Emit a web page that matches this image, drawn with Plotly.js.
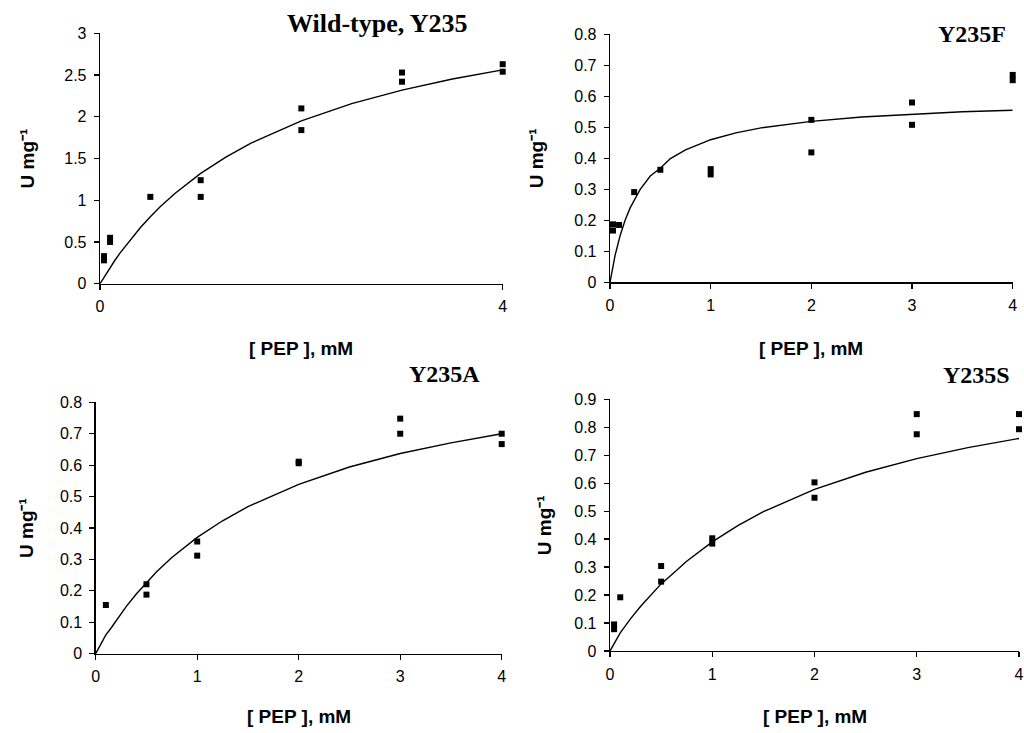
<!DOCTYPE html>
<html>
<head>
<meta charset="utf-8">
<script src="https://cdn.plot.ly/plotly-3.0.1.min.js"></script>
<style>
  html, body { margin: 0; padding: 0; background: #ffffff; }
  #chart { width: 1024px; height: 733px; }
</style>
</head>
<body>
<div id="chart"></div>
<script>
// Panel names
const panelTitles = ['Wild-type, Y235', 'Y235F', 'Y235A', 'Y235S'];

// Measured activities (U mg-1) against [PEP] (mM), duplicate determinations
const wtPepX = [0.04, 0.04, 0.1, 0.1, 0.5, 1, 1, 2, 2, 3, 3, 4, 4];
const wtRate = [0.33, 0.28, 0.55, 0.50, 1.04, 1.24, 1.04, 2.10, 1.84, 2.53, 2.42, 2.63, 2.54];

const fPepX = [0.03, 0.03, 0.09, 0.24, 0.5, 1, 1, 2, 2, 3, 3, 4, 4];
const fRate = [0.187, 0.167, 0.185, 0.291, 0.363, 0.365, 0.348, 0.524, 0.419, 0.580, 0.508, 0.669, 0.652];

const aPepX = [0.1, 0.5, 0.5, 1, 1, 2, 2, 3, 3, 4, 4];
const aRate = [0.155, 0.221, 0.188, 0.357, 0.312, 0.611, 0.606, 0.748, 0.700, 0.700, 0.667];

const sPepX = [0.04, 0.04, 0.1, 0.5, 0.5, 1, 1, 2, 2, 3, 3, 4, 4];
const sRate = [0.095, 0.078, 0.192, 0.304, 0.248, 0.403, 0.384, 0.603, 0.548, 0.847, 0.775, 0.847, 0.793];

// Fitted saturation curves
const fitX  = [0, 0.05, 0.1, 0.15, 0.2, 0.3, 0.4, 0.5, 0.6, 0.75, 1, 1.25, 1.5, 2, 2.5, 3, 3.5, 4];
const wtFit = [0, 0.10, 0.194, 0.284, 0.369, 0.527, 0.671, 0.803, 0.924, 1.087, 1.321, 1.517, 1.684, 1.951, 2.157, 2.320, 2.453, 2.562];
const fFit  = [0, 0.086, 0.150, 0.200, 0.240, 0.300, 0.343, 0.368, 0.399, 0.427, 0.460, 0.482, 0.498, 0.519, 0.533, 0.542, 0.550, 0.555];
const aFit  = [0, 0.030, 0.060, 0.081, 0.105, 0.150, 0.190, 0.227, 0.261, 0.306, 0.370, 0.423, 0.468, 0.539, 0.594, 0.637, 0.671, 0.700];
const sFit  = [0, 0.035, 0.065, 0.090, 0.115, 0.160, 0.200, 0.240, 0.272, 0.321, 0.390, 0.448, 0.498, 0.578, 0.639, 0.688, 0.727, 0.760];

// Axis ranges and tick spacing per panel
const yMax = [3, 0.8, 0.8, 0.9];
const yStep = [0.5, 0.1, 0.1, 0.1];
const wtXTicks = [0, 4];

const xTitle = '[ PEP ], mM';
const yTitle = 'U mg\u207B\u00B9';

const W = 1024, H = 733;
// plot boxes in pixels: [left, right, bottom, top]
const boxes = [
  [100, 502.7, 283.7, 33.3],
  [610, 1012.7, 282.3, 34.3],
  [95.7, 501.7, 653.7, 402.3],
  [610, 1019, 651, 399.3]
];
// axis title centres in pixels: [x-title x, x-title y, y-title x]
const titlePos = [
  [301.4, 348, 27],
  [811.4, 348, 536],
  [298.7, 716, 26],
  [814.5, 716, 544]
];

const series = [
  [wtPepX, wtRate, wtFit],
  [fPepX, fRate, fFit],
  [aPepX, aRate, aFit],
  [sPepX, sRate, sFit]
];

const traces = [];
const layout = {
  width: W, height: H,
  margin: {l: 0, r: 0, t: 0, b: 0},
  paper_bgcolor: '#ffffff',
  plot_bgcolor: '#ffffff',
  showlegend: false,
  annotations: []
};

const tickFont = {family: 'Liberation Sans, Arial, sans-serif', size: 16, color: '#000000'};
const axTitleFont = {family: 'Liberation Sans, Arial, sans-serif', size: 19, color: '#000000', weight: 'bold'};

series.forEach(function (s, i) {
  const n = i === 0 ? '' : String(i + 1);
  const xa = 'x' + n, ya = 'y' + n;
  traces.push({
    x: fitX, y: s[2], xaxis: xa, yaxis: ya,
    type: 'scatter', mode: 'lines',
    line: {color: '#000000', width: 1.4},
    cliponaxis: false, hoverinfo: 'skip'
  });
  traces.push({
    x: s[0], y: s[1], xaxis: xa, yaxis: ya,
    type: 'scatter', mode: 'markers',
    marker: {symbol: 'square', size: 6, color: '#000000'},
    cliponaxis: false
  });
  const b = boxes[i];
  const common = {
    showline: true, linecolor: '#000000', linewidth: 1.3,
    ticks: 'outside', ticklen: 5, tickwidth: 1.3, tickcolor: '#000000',
    showgrid: false, zeroline: false, tickfont: tickFont,
    fixedrange: true
  };
  layout['xaxis' + n] = Object.assign({}, common, {
    domain: [b[0] / W, b[1] / W],
    anchor: ya,
    range: [0, 4],
    tickmode: i === 0 ? 'array' : 'linear',
    tickvals: i === 0 ? wtXTicks : undefined,
    tick0: 0, dtick: 1,
    ticklabelstandoff: 3
  });
  layout['yaxis' + n] = Object.assign({}, common, {
    domain: [1 - b[2] / H, 1 - b[3] / H],
    anchor: xa,
    range: [0, yMax[i]],
    tick0: 0, dtick: yStep[i],
    ticklabelstandoff: 4
  });

  // axis titles
  const tp = titlePos[i];
  layout.annotations.push({
    text: xTitle, xref: 'paper', yref: 'paper',
    x: tp[0] / W, y: 1 - tp[1] / H,
    xanchor: 'center', yanchor: 'middle', showarrow: false,
    font: axTitleFont
  });
  layout.annotations.push({
    text: yTitle, xref: 'paper', yref: 'paper',
    x: tp[2] / W, y: 1 - ((b[2] + b[3]) / 2) / H,
    xanchor: 'center', yanchor: 'middle', showarrow: false,
    textangle: -90,
    font: axTitleFont
  });
});

// Panel headings
const headPos = [
  [470, 24, 26],
  [1008, 34, 24],
  [482, 374, 24],
  [1012, 375, 24]
];
panelTitles.forEach(function (t, i) {
  const p = headPos[i];
  layout.annotations.push({
    text: t, xref: 'paper', yref: 'paper',
    x: p[0] / W, y: 1 - p[1] / H,
    xanchor: 'right', yanchor: 'middle', showarrow: false,
    font: {family: 'Liberation Serif, Times New Roman, serif', size: p[2], color: '#000000', weight: 'bold'}
  });
});

Plotly.newPlot('chart', traces, layout, {staticPlot: true, displayModeBar: false});
</script>
</body>
</html>
